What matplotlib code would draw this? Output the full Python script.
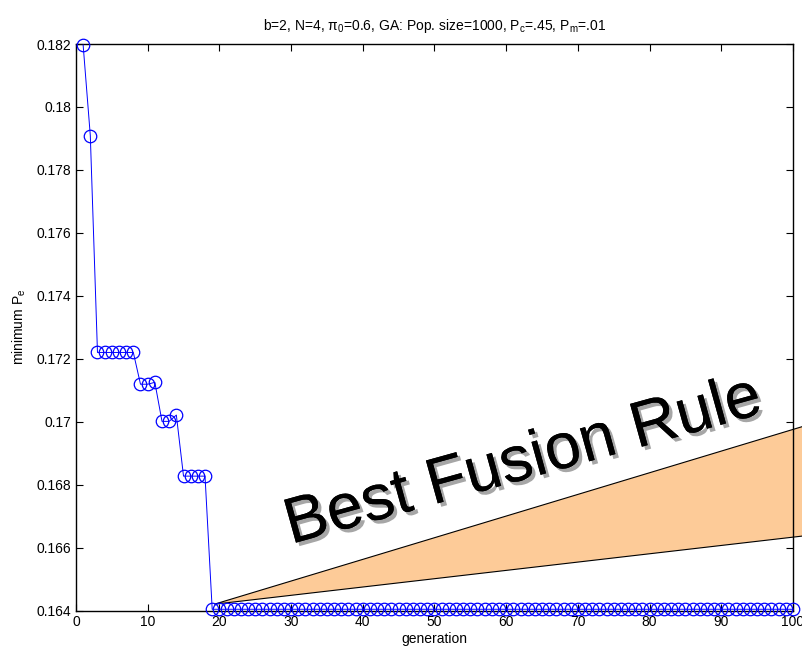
import matplotlib
matplotlib.use('Agg')
import matplotlib.pyplot as plt
import matplotlib.patheffects as pe
from matplotlib.patches import Polygon
from matplotlib.ticker import FormatStrFormatter, MultipleLocator
import numpy as np

plt.rcParams['font.family'] = ['Liberation Sans', 'DejaVu Sans']
plt.rcParams['mathtext.fontset'] = 'custom'
plt.rcParams['mathtext.rm'] = 'Liberation Sans'
plt.rcParams['mathtext.it'] = 'Liberation Sans:italic'

# минимальная вероятность ошибки по поколениям
generation = np.arange(1, 101)
min_pe = np.array(
    [0.18197, 0.17909]
    + [0.17220] * 6
    + [0.17119, 0.17119, 0.17125]
    + [0.17001, 0.17001, 0.17021]
    + [0.16827] * 4
    + [0.16404] * 82
)

title = r'b=2, N=4, $\mathrm{\pi}_0$=0.6, GA: Pop. size=1000, P$_\mathrm{c}$=.45, P$_\mathrm{m}$=.01'
note_text = 'Best Fusion Rule'
# выноска: вершина и два края у правого края рисунка (в данных)
wedge_x = [19.3, 103, 103]
wedge_y = [0.1642, 0.16996, 0.16641]

fig = plt.figure(figsize=(8.03, 6.54), dpi=100)
ax = fig.add_axes([0.0946, 0.0665, 0.8929, 0.8662])

ax.plot(generation, min_pe, color='blue', lw=0.7, marker='o', ms=9,
        mfc='none', mec='blue', mew=0.9, clip_on=False, zorder=3)

ax.set_xlim(0, 100)
ax.set_ylim(0.164, 0.182)
ax.xaxis.set_major_locator(MultipleLocator(10))
ax.yaxis.set_major_locator(MultipleLocator(0.002))
ax.yaxis.set_major_formatter(FormatStrFormatter('%g'))
ax.tick_params(direction='in', top=True, right=True, length=5, labelsize=10)
for s in ax.spines.values():
    s.set_linewidth(1.0)

ax.set_title(title, fontsize=10, pad=10)
ax.set_xlabel('generation', fontsize=10, labelpad=2)
ax.set_ylabel(r'minimum P$_\mathrm{e}$', fontsize=10, labelpad=6)

wedge = Polygon(np.column_stack([wedge_x, wedge_y]), closed=True,
                facecolor='#FDCB98', edgecolor='black', lw=0.8,
                clip_on=False, zorder=2)
ax.add_patch(wedge)

ax.text(62.4, 0.16872, note_text, fontsize=46.5, rotation=15.5,
        ha='center', va='center', rotation_mode='anchor', zorder=4,
        path_effects=[pe.withSimplePatchShadow(offset=(2.5, -2.5),
                                               shadow_rgbFace='gray', alpha=0.7),
                      pe.Normal()])

fig.savefig('out.png', dpi=100)
